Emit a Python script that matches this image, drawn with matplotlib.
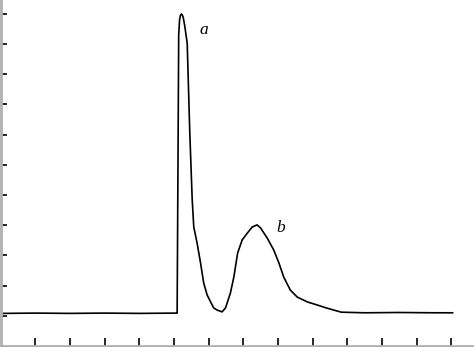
import matplotlib
matplotlib.use("Agg")
import matplotlib.pyplot as plt

# chromatogram trace (x in tick units, y in tick units)
time = [0.08, 1.0, 2.0, 3.0, 4.0, 5.09,
        5.095, 5.14, 5.165, 5.19, 5.215, 5.24, 5.27, 5.31, 5.385, 5.46, 5.53, 5.575,
        5.67, 5.77, 5.86, 5.96, 6.06, 6.15, 6.25, 6.39, 6.49, 6.63,
        6.73, 6.84, 6.97, 7.12, 7.26, 7.40, 7.50, 7.69, 7.88, 8.03,
        8.17, 8.36, 8.56, 8.85, 9.13, 9.40, 9.83, 10.5, 11.5, 12.5, 13.04]
signal = [1.08, 1.09, 1.08, 1.09, 1.08, 1.09,
          1.09, 10.30, 10.80, 10.95, 10.99, 10.97, 10.88, 10.63, 10.03, 7.05, 4.83, 3.94,
          3.41, 2.75, 2.09, 1.69, 1.46, 1.26, 1.19, 1.13, 1.26, 1.75,
          2.28, 3.08, 3.51, 3.74, 3.94, 4.01, 3.91, 3.58, 3.18, 2.75,
          2.28, 1.85, 1.62, 1.46, 1.36, 1.26, 1.12, 1.10, 1.11, 1.10, 1.10]

peak_labels = ["a", "b"]
peak_label_pos = [(5.87, 10.45), (8.07, 3.9)]

x_ticks = list(range(1, 14))
y_ticks = [1, 2, 3, 4, 5, 6, 7, 8, 9, 10, 11]

fig = plt.figure(figsize=(4.74, 3.47), dpi=100)
ax = fig.add_axes([0.5 / 474, 1.5 / 347, 1.0, 1.0])

ax.plot(time, signal, color="black", linewidth=1.2, solid_joinstyle="round")

for lab, (lx, ly) in zip(peak_labels, peak_label_pos):
    ax.text(lx, ly, lab, fontsize=12.5, style="italic", family="Liberation Serif",
            ha="center", va="center")

ax.set_xlim(0, 474 / 34.67)
ax.set_ylim(0.017, 347.5 / 30.2)
ax.set_xticks(x_ticks)
ax.set_yticks(y_ticks)
ax.set_xticklabels([])
ax.set_yticklabels([])
ax.tick_params(axis="x", direction="in", length=6, width=1.2, color="black")
ax.tick_params(axis="y", direction="in", length=4, width=1.2, color="black")

for side in ["top", "right"]:
    ax.spines[side].set_visible(False)
for side in ["left", "bottom"]:
    ax.spines[side].set_color("#b0b0b0")
    ax.spines[side].set_linewidth(2)

fig.savefig("out.png", dpi=100)
